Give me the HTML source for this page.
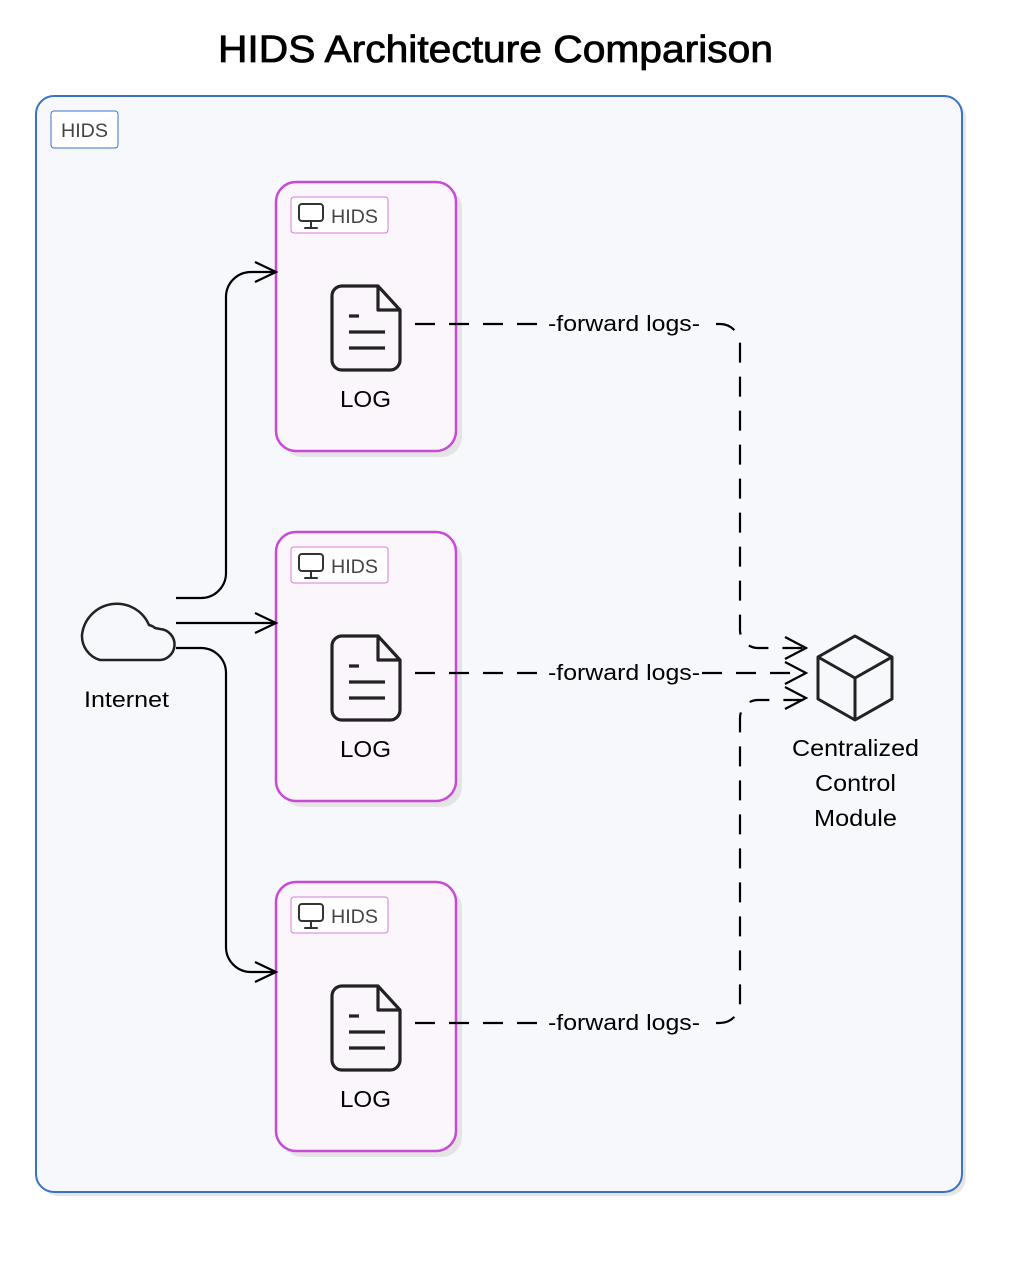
<!DOCTYPE html>
<html><head><meta charset="utf-8"><style>
html,body{margin:0;padding:0;background:#fff;}
svg{display:block;font-family:"Liberation Sans",Arial,sans-serif;}
</style></head><body>
<svg width="1025" height="1266" viewBox="0 0 1025 1266" xmlns="http://www.w3.org/2000/svg">
<defs>
<g id="mon"><rect x="0" y="0" width="24" height="17" rx="3" fill="none" stroke="#333" stroke-width="2"/><path d="M12 17v6M6 24h12" stroke="#333" stroke-width="2" fill="none" stroke-linecap="round"/></g>
<g id="doc"><path d="M10 0h36l22 24v50a10 10 0 0 1-10 10h-48a10 10 0 0 1-10-10v-64a10 10 0 0 1 10-10z" fill="none" stroke="#222" stroke-width="3.2" stroke-linejoin="round"/><path d="M46 0v24h22" fill="none" stroke="#222" stroke-width="3.2" stroke-linejoin="round"/><path d="M17 30h10M17 46h36M17 62h36" stroke="#222" stroke-width="3.2"/></g>
</defs>
<text x="218" y="62" font-size="38" textLength="555" lengthAdjust="spacingAndGlyphs" fill="#000" stroke="#000" stroke-width="0.8">HIDS Architecture Comparison</text>
<rect x="40" y="100" width="926" height="1096" rx="18" fill="#e6e6e6"/>
<rect x="36" y="96" width="926" height="1096" rx="18" fill="#f7f8fc" stroke="#3a72c8" stroke-width="2"/>
<rect x="51" y="111" width="67" height="37" rx="3" fill="#fff" stroke="#3a72c8" stroke-width="1"/>
<text x="61" y="137" font-size="19" textLength="47" lengthAdjust="spacingAndGlyphs" fill="#444">HIDS</text>

<g id="box">
<rect x="282" y="188" width="180" height="269" rx="20" fill="#e4e4e4"/>
<rect x="276" y="182" width="180" height="269" rx="20" fill="#fbf5fc" stroke="#c94ad6" stroke-width="2.5"/>
<rect x="291" y="197" width="97" height="36" rx="3" fill="#fff" stroke="#d77ae0" stroke-width="1"/>
<use href="#mon" x="299" y="204"/>
<text x="331" y="223" font-size="19" textLength="47" lengthAdjust="spacingAndGlyphs" fill="#444">HIDS</text>
<use href="#doc" x="332" y="286"/>
<text x="340" y="407" font-size="23" textLength="51" lengthAdjust="spacingAndGlyphs" fill="#000">LOG</text>
</g>
<use href="#box" y="350"/>
<use href="#box" y="700"/>

<!-- cloud -->
<path d="M100 660h58a15 15 0 0 0 2-31l-5-1a14 14 0 0 0-6-3a35 35 0 0 0-67 10a25 25 0 0 0 18 25z" fill="none" stroke="#222" stroke-width="2.5" stroke-linejoin="round"/>
<text x="84" y="707" font-size="22" textLength="85" lengthAdjust="spacingAndGlyphs" fill="#000">Internet</text>

<g fill="none" stroke="#000" stroke-width="2.2">
<path d="M176 598h25a25 25 0 0 0 25-25v-276a25 25 0 0 1 25-25h25"/>
<path d="M255 262l21 10l-21 10"/>
<path d="M176 623h100"/>
<path d="M255 613l21 10l-21 10"/>
<path d="M176 648h25a25 25 0 0 1 25 25v274a25 25 0 0 0 25 25h25"/>
<path d="M255 962l21 10l-21 10"/>
</g>

<g fill="none" stroke="#000" stroke-width="2.2" stroke-dasharray="20 14">
<path d="M415 324h130"/>
<path d="M415 673h130"/>
<path d="M415 1023h130"/>
<path d="M702 673h104"/>
<path d="M716 324h4a20 20 0 0 1 20 20v286a18 18 0 0 0 18 18h48"/>
<path d="M716 1023h4a20 20 0 0 0 20-20v-285a18 18 0 0 1 18-18h48"/>
</g>
<g fill="none" stroke="#000" stroke-width="2.2">
<path d="M785 637l21 11l-21 11"/>
<path d="M785 662l21 11l-21 11"/>
<path d="M785 687l21 11l-21 11"/>
</g>
<g font-size="22" fill="#000">
<text x="548" y="331" textLength="152" lengthAdjust="spacingAndGlyphs">-forward logs-</text>
<text x="548" y="680" textLength="152" lengthAdjust="spacingAndGlyphs">-forward logs-</text>
<text x="548" y="1030" textLength="152" lengthAdjust="spacingAndGlyphs">-forward logs-</text>
</g>

<!-- cube -->
<g fill="none" stroke="#222" stroke-width="3" stroke-linejoin="round">
<path d="M855 636l37 21v42l-37 21l-37-21v-42z"/>
<path d="M818 657l37 21l37-21M855 678v42"/>
</g>
<g font-size="23" fill="#000">
<text x="792" y="756" textLength="127" lengthAdjust="spacingAndGlyphs">Centralized</text>
<text x="815" y="791" textLength="81" lengthAdjust="spacingAndGlyphs">Control</text>
<text x="814" y="826" textLength="83" lengthAdjust="spacingAndGlyphs">Module</text>
</g>
</svg>
</body></html>
